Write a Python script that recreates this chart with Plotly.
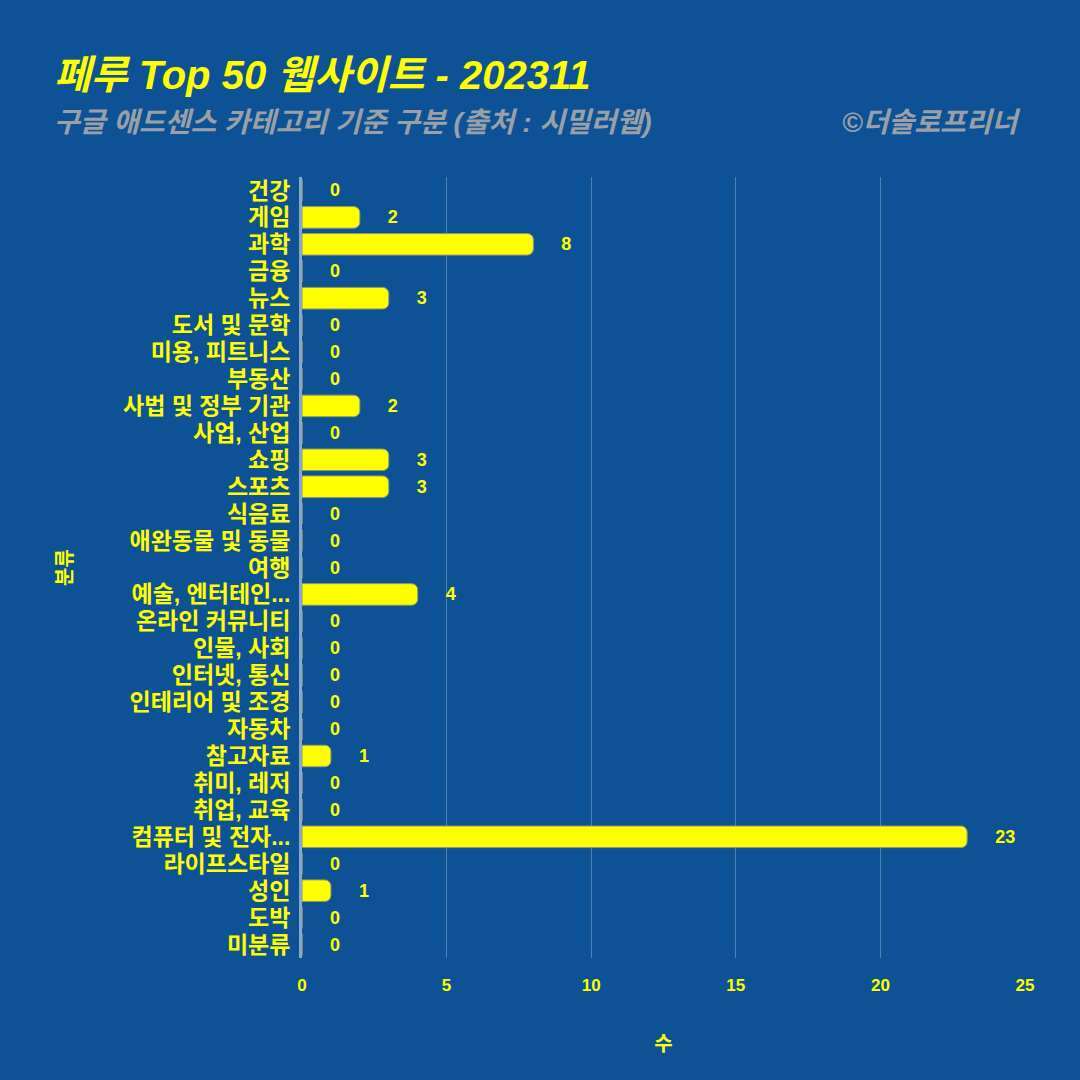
import plotly.graph_objects as go

categories = ["건강", "게임", "과학", "금융", "뉴스", "도서 및 문학", "미용, 피트니스", "부동산",
              "사법 및 정부 기관", "사업, 산업", "쇼핑", "스포츠", "식음료", "애완동물 및 동물",
              "여행", "예술, 엔터테인...", "온라인 커뮤니티", "인물, 사회", "인터넷, 통신",
              "인테리어 및 조경", "자동차", "참고자료", "취미, 레저", "취업, 교육",
              "컴퓨터 및 전자...", "라이프스타일", "성인", "도박", "미분류"]
values = [0, 2, 8, 0, 3, 0, 0, 0, 2, 0, 3, 3, 0, 0, 0, 4, 0, 0, 0, 0, 0, 1, 0, 0, 23, 0, 1, 0, 0]
x_ticks = [0, 5, 10, 15, 20, 25]

BG = "#0D5294"
YEL = "#FFFF00"
FONT = "Liberation Sans, Noto Sans CJK KR"

fig = go.Figure(go.Bar(
    y=categories, x=values, orientation="h",
    marker=dict(color=YEL, line=dict(color="#8f9a6a", width=1), cornerradius=6),
    width=0.8,
    text=values,
    texttemplate="\u00a0\u00a0\u00a0\u00a0\u00a0%{x}",
    textposition="outside",
    textfont=dict(color=YEL, size=18, family=FONT, weight="bold"),
    cliponaxis=False,
))

fig.update_layout(
    width=1080, height=1080,
    paper_bgcolor=BG, plot_bgcolor=BG,
    margin=dict(l=302, r=55, t=177, b=122),
    font=dict(family=FONT, color=YEL),
    showlegend=False,
    xaxis=dict(range=[0, 25], tickvals=x_ticks, showgrid=True,
               gridcolor="rgba(255,255,255,0.28)", gridwidth=1, zeroline=False,
               tickfont=dict(size=17, color=YEL, family=FONT, weight="bold"),
               title=dict(text="수", font=dict(size=20, color=YEL, family=FONT, weight="bold"), standoff=42),
               ticks="", ticklabelstandoff=15),
    yaxis=dict(autorange="reversed", showline=True, linecolor="#8aa6c8", linewidth=3,
               showgrid=False, ticks="", tickmode="array", tickvals=categories, ticktext=categories,
               tickfont=dict(size=23, color=YEL, family=FONT, weight="bold"),
               ticklabelstandoff=4,
               title=dict(text="분류", font=dict(size=20, color=YEL, family=FONT, weight="bold"), standoff=46),
               range=[len(categories) - 0.5, -0.5]),
    annotations=[
        dict(text="<i><b>페루 Top 50 웹사이트 - 202311</b></i>", xref="paper", yref="paper",
             x=(52 - 302) / 723, y=1 + (177 - 75) / 781, xanchor="left", yanchor="middle",
             showarrow=False, font=dict(size=40, color=YEL, family=FONT)),
        dict(text="<i><b>구글 애드센스 카테고리 기준 구분 (출처 : 시밀러웹)</b></i>", xref="paper", yref="paper",
             x=(52 - 302) / 723, y=1 + (177 - 122) / 781, xanchor="left", yanchor="middle",
             showarrow=False, font=dict(size=28, color="#9aa0a8", family=FONT)),
        dict(text="<i><b>©더솔로프리너</b></i>", xref="paper", yref="paper",
             x=(1022 - 302) / 723, y=1 + (177 - 122) / 781, xanchor="right", yanchor="middle",
             showarrow=False, font=dict(size=28, color="#9aa0a8", family=FONT)),
    ],
)

fig.write_html("out.html", config={"displayModeBar": False},
               post_script="document.body.style.margin='0';")
